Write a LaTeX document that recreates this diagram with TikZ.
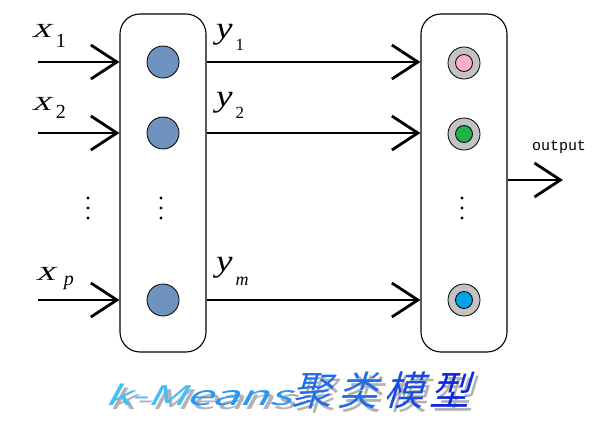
\documentclass[tikz,border=0pt]{standalone}
\usepackage{fontspec}
\setmainfont{Liberation Serif}
\newfontfamily\titlefont[FakeSlant=0.3]{Noto Sans CJK SC}
\newfontfamily\outfont{Liberation Mono}
\usetikzlibrary{arrows.meta,positioning}
\definecolor{unitfill}{RGB}{112,146,190}
\definecolor{ringgray}{RGB}{195,195,195}
\definecolor{clusterpink}{RGB}{255,174,201}
\definecolor{clustergreen}{RGB}{34,177,76}
\definecolor{clusterblue}{RGB}{0,162,232}
\definecolor{titleshadow}{RGB}{178,178,182}
\definecolor{titlecyan}{RGB}{70,190,245}
\definecolor{titlesky}{RGB}{45,150,240}
\definecolor{titlemid}{RGB}{30,110,235}
\definecolor{titleblue}{RGB}{22,75,230}
\definecolor{titledeep}{RGB}{15,40,220}
\tikzset{
  layerbox/.style={
    draw=black,
    line width=1.1pt,
    rounded corners=20pt,
    minimum width=86pt,
    minimum height=338pt,
    inner sep=0pt
  },
  unitdot/.style={
    circle,
    draw=black,
    line width=0.8pt,
    fill=unitfill,
    minimum size=32pt,
    inner sep=0pt
  },
  clusterring/.style={
    circle,
    draw=black,
    line width=0.8pt,
    fill=ringgray,
    minimum size=32pt,
    inner sep=0pt
  },
  clustercore/.style={
    circle,
    draw=black,
    line width=0.8pt,
    minimum size=17pt,
    inner sep=0pt
  },
  signal/.style={
    draw=black,
    line width=2.8pt,
    -{Straight Barb[length=26pt,width=34pt]}
  },
  xlabel/.style={
    anchor=base west,
    inner sep=0pt,
    font=\fontsize{20}{22}\selectfont
  },
  ylabel/.style={
    anchor=base west,
    inner sep=0pt,
    font=\fontsize{31}{33}\selectfont
  }
}

\begin{document}
\begin{tikzpicture}[x=1pt,y=-1pt]

  % Page frame in pixel units of the reference (y grows downwards).
  \useasboundingbox (0,0) rectangle (603,431);

  % The two layers: input units and cluster centres.
  \node[layerbox] (inlayer) at (163,183) {};
  \node[layerbox] (clusterlayer) at (464,183) {};

  % Input units.
  \node[unitdot] (u1) at (163,62) {};
  \node[unitdot] (u2) at (163,133) {};
  \node[unitdot] (um) at (163,300) {};

  % Cluster centres: grey ring with a coloured core.
  \node[clusterring] (c1) at (464,63) {};
  \node[clustercore,fill=clusterpink] (c1core) at (c1) {};
  \node[clusterring] (c2) at (464,134) {};
  \node[clustercore,fill=clustergreen] (c2core) at (c2) {};
  \node[clusterring] (cm) at (464,300) {};
  \node[clustercore,fill=clusterblue] (cmcore) at (cm) {};

  % Free ends of the input and output signals.
  \coordinate (x1) at (38,62);
  \coordinate (x2) at (38,133);
  \coordinate (xp) at (38,300);
  \coordinate (out) at (563,180);

  % Input signals into the first layer.
  \draw[signal] (x1) -- (x1 -| inlayer.west);
  \draw[signal] (x2) -- (x2 -| inlayer.west);
  \draw[signal] (xp) -- (xp -| inlayer.west);

  % Outputs y of the units towards the cluster layer.
  \draw[signal] (u1 -| inlayer.east) -- (u1 -| clusterlayer.west);
  \draw[signal] (u2 -| inlayer.east) -- (u2 -| clusterlayer.west);
  \draw[signal] (um -| inlayer.east) -- (um -| clusterlayer.west);

  % Result of the clustering.
  \draw[signal] (clusterlayer.east |- out) -- (out);
  \node[font=\outfont\fontsize{15}{16}\selectfont,anchor=base] (outlabel)
    at (559,150) {output};

  % Labels of the inputs.
  \node[xlabel] (x1label) at (33,37)
    {\scalebox{1.6}[1]{\textit{X}}\hspace{2pt}\raisebox{-10pt}{1}};
  \node[xlabel] (x2label) at (33,110)
    {\scalebox{1.6}[1]{\textit{X}}\hspace{2pt}\raisebox{-8pt}{2}};
  \node[xlabel] (xplabel) at (37,280)
    {\scalebox{1.6}[1]{\textit{X}}\hspace{6pt}\raisebox{-5pt}{\textit{p}}};

  % Labels of the unit outputs.
  \node[ylabel] (y1label) at (216,38)
    {\scalebox{1.2}[1]{\textit{y}}\hspace{3pt}\raisebox{-12pt}{\fontsize{17}{18}\selectfont 1}};
  \node[ylabel] (y2label) at (216,106)
    {\scalebox{1.2}[1]{\textit{y}}\hspace{3pt}\raisebox{-12pt}{\fontsize{17}{18}\selectfont 2}};
  \node[ylabel] (ymlabel) at (216,271)
    {\scalebox{1.2}[1]{\textit{y}}\hspace{3pt}\raisebox{-14pt}{\fontsize{18}{19}\selectfont\textit{m}}};

  % Ellipsis dots between the second and the last row.
  \foreach \col in {88,161,462}
    \foreach \row in {198,208,218}
      \fill[black] (\col,\row) circle[radius=1.6];

  % Title with its grey shadow.
  \node[font=\titlefont\fontsize{40}{42}\selectfont,text=titleshadow,anchor=base]
    (titleshadow) at (291,409)
    {\scalebox{1.8}[1]{\fontsize{27}{28}\selectfont k-Means}%
     聚\hspace{6pt}类\hspace{6pt}模\hspace{6pt}型};
  \node[font=\titlefont\fontsize{40}{42}\selectfont,anchor=base]
    (title) at (287,405)
    {\scalebox{1.8}[1]{\fontsize{27}{28}\selectfont
      \textcolor{titlecyan}{k-M}\textcolor{titlesky}{eans}}%
     \textcolor{titlemid}{聚}\hspace{6pt}\textcolor{titlemid}{类}\hspace{6pt}%
     \textcolor{titleblue}{模}\hspace{6pt}\textcolor{titledeep}{型}};

\end{tikzpicture}
\end{document}
